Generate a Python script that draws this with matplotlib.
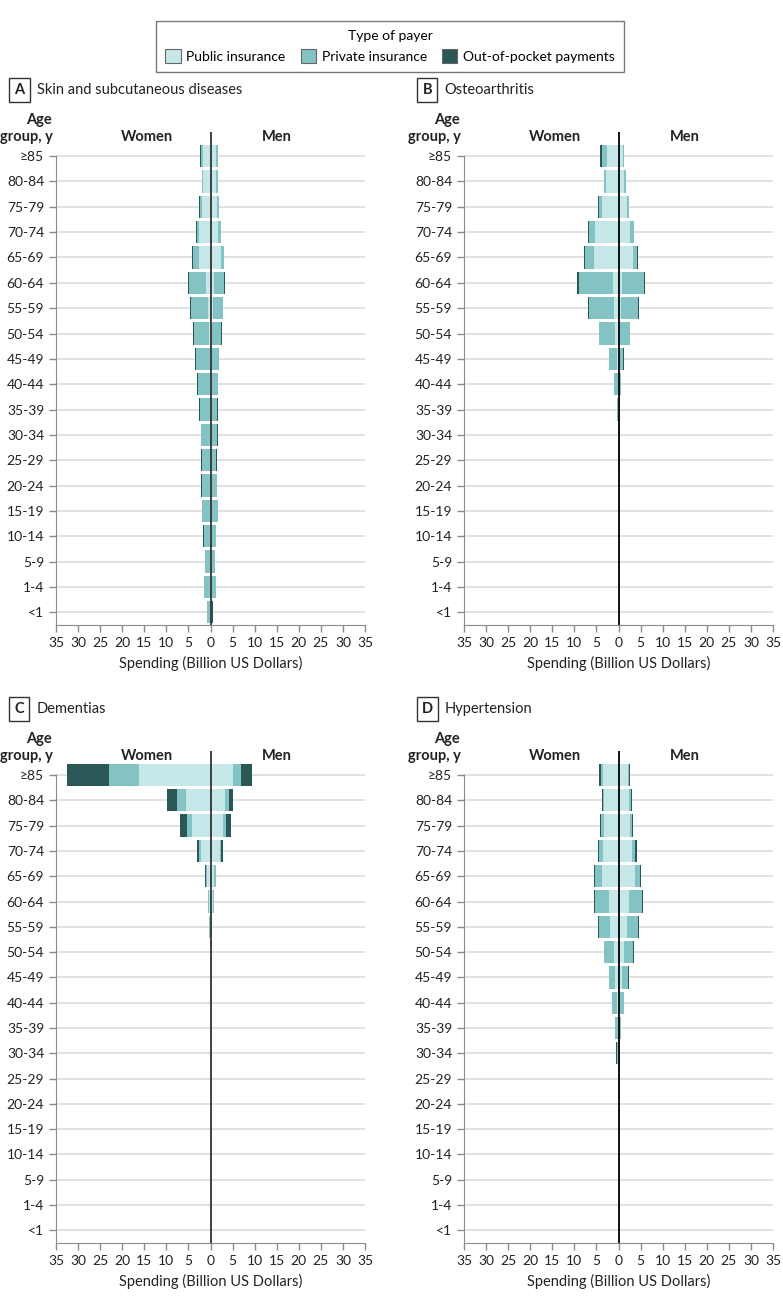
import matplotlib.pyplot as plt
from matplotlib.patches import Patch

plt.rcParams['font.family'] = ['Lato', 'DejaVu Sans']

# Age groups, top to bottom
ages = ['≥85', '80-84', '75-79', '70-74', '65-69', '60-64', '55-59', '50-54', '45-49',
        '40-44', '35-39', '30-34', '25-29', '20-24', '15-19', '10-14', '5-9', '1-4', '<1']

# A - Skin and subcutaneous diseases (billion USD)
a_w_pub = [1.7, 1.6, 1.85, 2.6, 2.6, 1.0, 0.6, 0.3, 0.2, 0.15, 0.15, 0.15, 0.1, 0.1, 0.1, 0.1, 0.1, 0.1, 0.1]
a_w_priv = [0.55, 0.3, 0.45, 0.45, 1.35, 3.8, 3.9, 3.5, 3.05, 2.7, 2.2, 1.95, 1.85, 1.85, 1.75, 1.4, 1.15, 1.3, 0.65]
a_w_oop = [0.2, 0.1, 0.2, 0.15, 0.2, 0.2, 0.2, 0.2, 0.15, 0.15, 0.15, 0.15, 0.15, 0.15, 0.15, 0.1, 0.1, 0.1, 0.05]
a_m_pub = [1.3, 1.35, 1.5, 1.8, 2.4, 0.9, 0.5, 0.25, 0.15, 0.15, 0.1, 0.1, 0.1, 0.1, 0.1, 0.1, 0.1, 0.1, 0.1]
a_m_priv = [0.45, 0.4, 0.45, 0.55, 0.55, 2.2, 2.3, 2.15, 1.75, 1.5, 1.45, 1.45, 1.25, 1.35, 1.5, 1.15, 0.9, 1.05, 0.35]
a_m_oop = [0.05, 0.05, 0.05, 0.05, 0.1, 0.1, 0.1, 0.1, 0.1, 0.05, 0.05, 0.05, 0.05, 0.05, 0.05, 0.05, 0.05, 0.05, 0.05]

# B - Osteoarthritis
b_w_pub = [2.6, 2.8, 3.7, 5.3, 5.6, 1.3, 1.1, 0.75, 0.3, 0.15, 0.05, 0.02, 0, 0, 0, 0, 0, 0, 0]
b_w_priv = [1.1, 0.4, 0.8, 1.3, 2.1, 7.7, 5.6, 3.6, 1.85, 0.9, 0.35, 0.08, 0.04, 0, 0, 0, 0, 0, 0]
b_w_oop = [0.4, 0.1, 0.15, 0.2, 0.15, 0.3, 0.2, 0.15, 0.1, 0.05, 0, 0, 0, 0, 0, 0, 0, 0, 0]
b_m_pub = [1.0, 1.35, 1.9, 2.6, 3.2, 0.75, 0.6, 0.4, 0.2, 0.1, 0.05, 0.02, 0, 0, 0, 0, 0, 0, 0]
b_m_priv = [0.3, 0.3, 0.5, 0.8, 1.1, 5.0, 3.8, 2.2, 0.9, 0.4, 0.3, 0.06, 0.03, 0, 0, 0, 0, 0, 0]
b_m_oop = [0, 0, 0, 0.05, 0.05, 0.2, 0.2, 0.1, 0.05, 0, 0, 0, 0, 0, 0, 0, 0, 0, 0]

# C - Dementias
c_w_pub = [16.2, 5.6, 4.1, 2.2, 0.85, 0.4, 0.15, 0.05, 0, 0, 0, 0, 0, 0, 0, 0, 0, 0, 0]
c_w_priv = [6.7, 2.0, 1.2, 0.4, 0.25, 0.15, 0.1, 0.03, 0, 0, 0, 0, 0, 0, 0, 0, 0, 0, 0]
c_w_oop = [9.5, 2.25, 1.5, 0.5, 0.2, 0.05, 0.05, 0, 0, 0, 0, 0, 0, 0, 0, 0, 0, 0, 0]
c_m_pub = [5.0, 3.2, 2.8, 2.2, 0.9, 0.5, 0.15, 0.05, 0, 0, 0, 0, 0, 0, 0, 0, 0, 0, 0]
c_m_priv = [1.8, 0.9, 0.8, 0.2, 0.25, 0.2, 0.1, 0.03, 0, 0, 0, 0, 0, 0, 0, 0, 0, 0, 0]
c_m_oop = [2.5, 1.1, 1.0, 0.45, 0.2, 0.05, 0.05, 0, 0, 0, 0, 0, 0, 0, 0, 0, 0, 0, 0]

# D - Hypertension
d_w_pub = [3.4, 3.3, 3.3, 3.5, 3.75, 2.25, 1.9, 1.1, 0.75, 0.4, 0.2, 0.1, 0.05, 0.02, 0, 0, 0, 0, 0]
d_w_priv = [0.5, 0.3, 0.6, 1.0, 1.5, 3.15, 2.6, 2.1, 1.35, 1.0, 0.5, 0.35, 0.1, 0.03, 0, 0, 0, 0, 0]
d_w_oop = [0.45, 0.2, 0.2, 0.2, 0.2, 0.2, 0.2, 0.15, 0.1, 0.05, 0.05, 0.05, 0, 0, 0, 0, 0, 0, 0]
d_m_pub = [2.1, 2.4, 2.6, 3.0, 3.8, 2.4, 2.0, 1.3, 0.75, 0.4, 0.15, 0.1, 0.03, 0.02, 0, 0, 0, 0, 0]
d_m_priv = [0.3, 0.35, 0.45, 0.8, 1.1, 2.85, 2.5, 1.9, 1.5, 0.85, 0.45, 0.3, 0.07, 0.02, 0, 0, 0, 0, 0]
d_m_oop = [0.2, 0.2, 0.15, 0.3, 0.2, 0.25, 0.25, 0.2, 0.1, 0.05, 0, 0, 0, 0, 0, 0, 0, 0, 0]

panels = [
    ('A', 'Skin and subcutaneous diseases', a_w_pub, a_w_priv, a_w_oop, a_m_pub, a_m_priv, a_m_oop),
    ('B', 'Osteoarthritis', b_w_pub, b_w_priv, b_w_oop, b_m_pub, b_m_priv, b_m_oop),
    ('C', 'Dementias', c_w_pub, c_w_priv, c_w_oop, c_m_pub, c_m_priv, c_m_oop),
    ('D', 'Hypertension', d_w_pub, d_w_priv, d_w_oop, d_m_pub, d_m_priv, d_m_oop),
]

PUB = '#c6e7e7'
PRIV = '#84c3c3'
OOP = '#2c5757'
TXT = '#222222'

W, H = 783, 1298
fig = plt.figure(figsize=(W / 100, H / 100), dpi=100)

# axes boxes in pixels: left, bottom(px from top), top(px from top)
boxes = [(56, 625, 132), (464, 625, 132), (56, 1243, 751), (464, 1243, 751)]
axw = 309

y = [len(ages) - 1 - i for i in range(len(ages))]

for (letter, title, wp, wr, wo, mp, mr, mo), (lx, bot, top) in zip(panels, boxes):
    ax = fig.add_axes([lx / W, 1 - bot / H, axw / W, (bot - top) / H])
    ax.set_xlim(-35, 35)
    ax.set_ylim(-0.5, 18.95)

    for yy in y:
        ax.plot([-35, 35], [yy, yy], color='#d9d9d9', lw=1.1, zorder=0)

    # women (negative side)
    wl1 = [-v for v in wp]
    wl2 = [-(a + b) for a, b in zip(wp, wr)]
    ax.barh(y, [-v for v in wp], height=0.88, color=PUB, zorder=2)
    ax.barh(y, [-v for v in wr], left=wl1, height=0.88, color=PRIV, zorder=2)
    ax.barh(y, [-v for v in wo], left=wl2, height=0.88, color=OOP, zorder=2)
    # men
    ml2 = [a + b for a, b in zip(mp, mr)]
    ax.barh(y, mp, height=0.88, color=PUB, zorder=2)
    ax.barh(y, mr, left=mp, height=0.88, color=PRIV, zorder=2)
    ax.barh(y, mo, left=ml2, height=0.88, color=OOP, zorder=2)

    zc = '#333333' if letter in 'AC' else '#000000'
    ax.axvline(0, color=zc, lw=1.3, zorder=3)

    for s in ['top', 'right']:
        ax.spines[s].set_visible(False)
    ax.spines['left'].set_color('#8c8c8c')
    ax.spines['bottom'].set_color('#8c8c8c')
    ax.spines['left'].set_bounds(-0.5, 18)
    ax.set_yticks(y)
    ax.set_yticklabels(ages)
    ticks = list(range(-35, 36, 5))
    ax.set_xticks(ticks)
    ax.set_xticklabels([str(abs(t)) for t in ticks])
    ax.tick_params(axis='both', colors='#8c8c8c', labelcolor=TXT, labelsize=10,
                   length=5, width=1)
    ax.set_xlabel('Spending (Billion US Dollars)', fontsize=10.5, color=TXT, labelpad=5)

    ax.text(-14.5, 18.75, 'Women', ha='center', va='center', fontsize=10.5,
            fontweight='bold', color=TXT)
    ax.text(15.0, 18.75, 'Men', ha='center', va='center', fontsize=10.5,
            fontweight='bold', color=TXT)
    ax.text(-36.0, 19.42, 'Age', ha='right', va='center', fontsize=10.5,
            fontweight='bold', color=TXT, clip_on=False)
    ax.text(-35.8, 18.75, 'group, y', ha='right', va='center', fontsize=10.5,
            fontweight='bold', color=TXT, clip_on=False)

    ax.text(-43.3, 20.6, letter, ha='center', va='center', fontsize=10.5, color=TXT,
            fontweight='bold', clip_on=False,
            bbox=dict(boxstyle='square,pad=0.35', fc='white', ec='#333333', lw=1))
    ax.text(-39.4, 20.6, title, ha='left', va='center', fontsize=10.5, color=TXT,
            clip_on=False)

handles = [Patch(facecolor=PUB, edgecolor='#666666', lw=0.8, label='Public insurance'),
           Patch(facecolor=PRIV, edgecolor='#666666', lw=0.8, label='Private insurance'),
           Patch(facecolor=OOP, edgecolor='#666666', lw=0.8, label='Out-of-pocket payments')]
leg = fig.legend(handles=handles, title='Type of payer', ncol=3, loc='upper center',
                 bbox_to_anchor=(390 / W, 1 - 14 / H), fontsize=10, title_fontsize=10,
                 frameon=True, fancybox=False, edgecolor='#555555', handlelength=1.1,
                 handleheight=1.2, columnspacing=1.1, handletextpad=0.4, borderpad=0.65)
leg.get_frame().set_linewidth(1)

fig.savefig('out.png', dpi=100)
